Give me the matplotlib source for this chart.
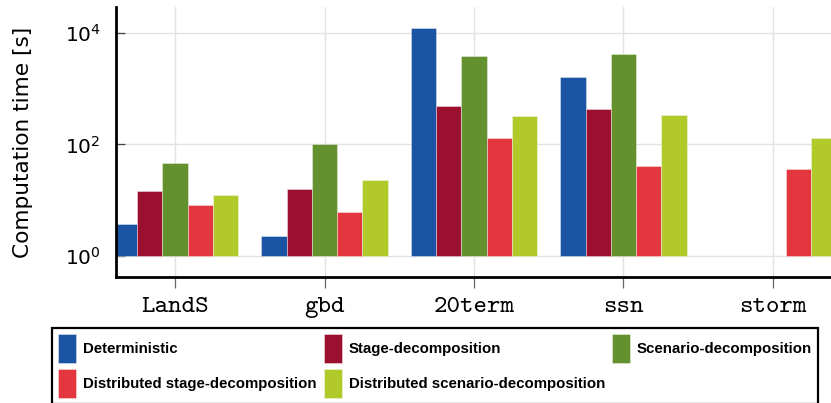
import os
import numpy as np
import matplotlib
matplotlib.use("Agg")
import matplotlib.pyplot as plt
from matplotlib.font_manager import FontProperties
from matplotlib.ticker import NullLocator

# data (seconds, log scale)
problems = ["LandS", "gbd", "20term", "ssn", "storm"]
methods = ["Deterministic", "Stage-decomposition", "Scenario-decomposition",
           "Distributed stage-decomposition", "Distributed scenario-decomposition"]
deterministic = [3.8, 2.25, 12100, 1600, np.nan]
stage_dec = [14.8, 16.1, 500, 430, np.nan]
scenario_dec = [46, 100, 3900, 4150, np.nan]
dist_stage_dec = [8.2, 6.2, 131, 40.5, 36.5]
dist_scenario_dec = [12.3, 23, 325, 335, 129]
colors = ["#1b54a3", "#9b102f", "#62912e", "#e3363f", "#b1c92b"]

series = [deterministic, stage_dec, scenario_dec, dist_stage_dec, dist_scenario_dec]

tt_font = FontProperties(fname=os.path.join(matplotlib.get_data_path(), "fonts/ttf/cmtt10.ttf"),
                         size=18.5)

fig = plt.figure(figsize=(8.31, 4.03), dpi=100)
ax = fig.add_axes([116/831, 1-277/403, 716/831, 270/403])

x = np.arange(len(problems))
w = 0.169
bars = []
for i, (vals, c, name) in enumerate(zip(series, colors, methods)):
    v = np.array(vals, dtype=float)
    b = ax.bar(x + (i-2)*w, v-1, bottom=1, width=w, color=c,
               edgecolor=(1, 1, 1, 0.45), linewidth=0.6, label=name, zorder=2)
    bars.append(b)

ax.set_yscale("log")
ax.set_ylim(0.42, 29250)
ax.set_xlim(-0.395, len(problems)-1+0.395)
ax.set_yticks([1, 100, 10000])
ax.yaxis.set_minor_locator(NullLocator())
ax.set_xticks(x)
ax.set_xticklabels(problems, fontproperties=tt_font)

ax.grid(True, color="#e3e3e3", linewidth=1.0, zorder=0)
ax.set_axisbelow(True)
for s in ["top", "right"]:
    ax.spines[s].set_visible(False)
for s in ["left", "bottom"]:
    ax.spines[s].set_linewidth(2.0)

ax.tick_params(axis="y", direction="in", length=6.5, width=0.9, color="#444444",
               labelsize=14.5, pad=11)
ax.tick_params(axis="x", direction="out", length=8, width=0.9, color="#666666", pad=6.5)

ax.set_ylabel("Computation time [s]", fontsize=15.6)
ax.yaxis.set_label_coords(-0.116, 0.5)

# legend filled row by row
h = [bars[0], bars[3], bars[1], bars[4], bars[2]]
l = [methods[0], methods[3], methods[1], methods[4], methods[2]]
leg = fig.legend(h, l, ncol=3, loc="upper left", bbox_to_anchor=(52/831, 1-328/403),
                 borderaxespad=0, fancybox=False, framealpha=1, edgecolor="black",
                 prop={"family": "Liberation Sans", "weight": "bold", "size": 10.8},
                 handlelength=1.2, handleheight=2.6, handletextpad=0.47,
                 columnspacing=0.47, labelspacing=0.4, borderpad=0.4)
leg.get_frame().set_linewidth(1.6)

fig.savefig("out.png", dpi=100)
